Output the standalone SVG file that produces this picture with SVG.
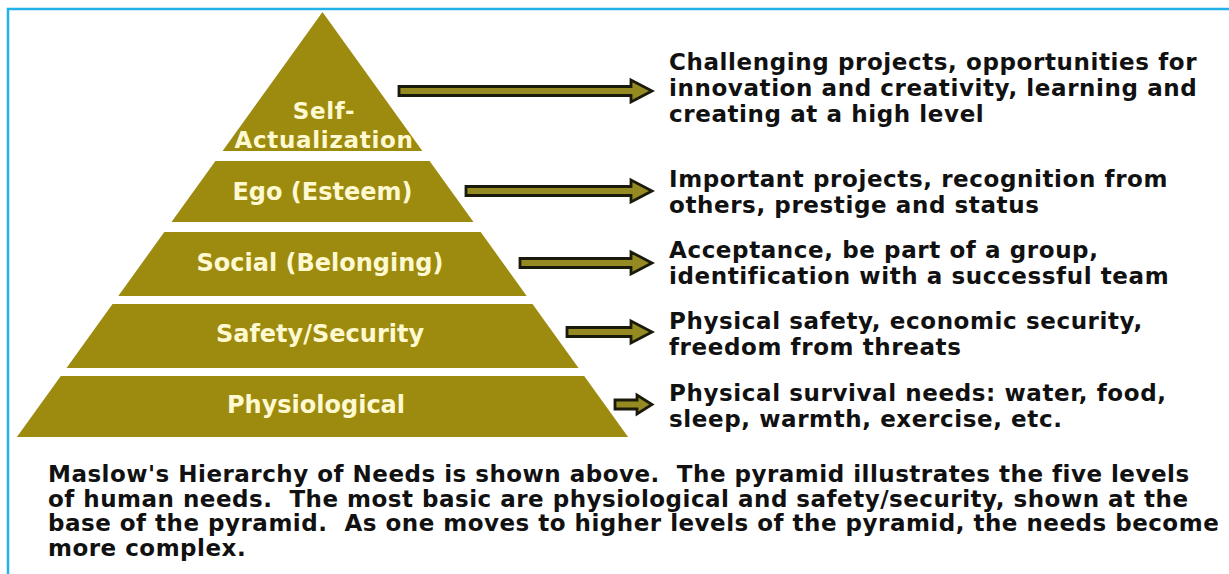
<svg xmlns="http://www.w3.org/2000/svg" width="1229" height="574" viewBox="0 0 1229 574">
  <defs>
    <style>
      .tier { fill: #9D8B10; }
      .lbl { font-family: "DejaVu Sans", Verdana, sans-serif; font-weight: bold; font-size: 24px; fill: #FFF9D2; text-anchor: middle; }
      .lbl2 { font-family: "DejaVu Sans", Verdana, sans-serif; font-weight: bold; font-size: 23px; letter-spacing: 0.7px; fill: #FFF9D2; text-anchor: middle; }
      .desc { font-family: "DejaVu Sans", Verdana, sans-serif; font-weight: bold; font-size: 23px; letter-spacing: 0.6px; fill: #111111; }
      .para { font-family: "DejaVu Sans", Verdana, sans-serif; font-weight: bold; font-size: 23px; letter-spacing: 0.5px; fill: #111111; }
      .arrow { fill: #958A22; stroke: #1A1A0C; stroke-width: 2.8; stroke-linejoin: miter; }
    </style>
  </defs>
  <rect x="0" y="0" width="1229" height="574" fill="#FFFFFF"/>
  <path d="M8 574 V9 H1229" fill="none" stroke="#22B2E8" stroke-width="2.5"/>

  <g id="self-actualization">
    <polygon class="tier" points="322.5,12 422.4,151 222.6,151"/>
    <text class="lbl2" x="324" y="119">Self-</text>
    <text class="lbl2" x="324" y="148">Actualization</text>
  </g>
  <g id="ego">
    <polygon class="tier" points="215.4,161 429.6,161 473.5,222 171.5,222"/>
    <text class="lbl" x="322.5" y="200">Ego (Esteem)</text>
  </g>
  <g id="social">
    <polygon class="tier" points="164.3,232 480.7,232 526.7,296 118.3,296"/>
    <text class="lbl" x="320" y="271">Social (Belonging)</text>
  </g>
  <g id="safety">
    <polygon class="tier" points="112.5,304 532.5,304 578.5,368 66.5,368"/>
    <text class="lbl" x="320" y="342">Safety/Security</text>
  </g>
  <g id="physiological">
    <polygon class="tier" points="60.8,376 584.2,376 628.1,437 16.9,437"/>
    <text class="lbl" x="316" y="413">Physiological</text>
  </g>

  <g id="connectors">
    <path class="arrow" d="M399 86.5 H631 V80 L652 91 L631 102 V95.5 H399 Z"/>
    <path class="arrow" d="M466 186.5 H631 V180 L652 191 L631 202 V195.5 H466 Z"/>
    <path class="arrow" d="M520 258.5 H631 V252 L652 263 L631 274 V267.5 H520 Z"/>
    <path class="arrow" d="M567 327.5 H631 V321 L652 332 L631 343 V336.5 H567 Z"/>
    <path class="arrow" d="M615 400 H637 V395 L652 404.5 L637 414 V409 H615 Z"/>
  </g>

  <g id="descriptions">
    <text class="desc" x="669" y="70">Challenging projects, opportunities for</text>
    <text class="desc" x="669" y="96">innovation and creativity, learning and</text>
    <text class="desc" x="669" y="122">creating at a high level</text>
    <text class="desc" x="669" y="187">Important projects, recognition from</text>
    <text class="desc" x="669" y="213">others, prestige and status</text>
    <text class="desc" x="669" y="258">Acceptance, be part of a group,</text>
    <text class="desc" x="669" y="284">identification with a successful team</text>
    <text class="desc" x="669" y="329">Physical safety, economic security,</text>
    <text class="desc" x="669" y="355">freedom from threats</text>
    <text class="desc" x="669" y="401">Physical survival needs: water, food,</text>
    <text class="desc" x="669" y="427">sleep, warmth, exercise, etc.</text>
  </g>

  <g id="caption">
    <text class="para" x="48" y="482" xml:space="preserve">Maslow's Hierarchy of Needs is shown above.  The pyramid illustrates the five levels</text>
    <text class="para" x="48" y="507" xml:space="preserve">of human needs.  The most basic are physiological and safety/security, shown at the</text>
    <text class="para" x="48" y="531" xml:space="preserve">base of the pyramid.  As one moves to higher levels of the pyramid, the needs become</text>
    <text class="para" x="48" y="556">more complex.</text>
  </g>
</svg>
